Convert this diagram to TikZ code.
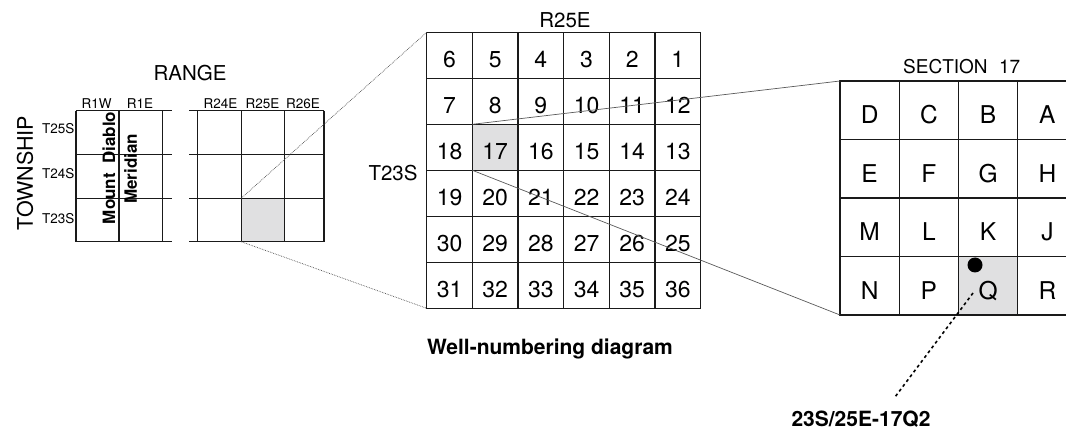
\documentclass[tikz,border=0pt]{standalone}
\usepackage{fontspec}
\setmainfont{TeX Gyre Heros}
\definecolor{cellgray}{HTML}{E0E0E1}
\definecolor{ink}{HTML}{1A1A1A}
\begin{document}
\begin{tikzpicture}[x=1pt,y=-1pt,
  gridline/.style={line width=1.2pt, draw=ink},
  seccell/.style={draw=ink, line width=1.2pt, rectangle, inner sep=0pt, outer sep=0pt,
    minimum width=45.67pt, minimum height=46pt, text height=24pt, text depth=0pt,
    font=\fontsize{23}{26}\selectfont},
  qcell/.style={draw=ink, line width=1.2pt, rectangle, inner sep=0pt, outer sep=0pt,
    minimum width=59.25pt, minimum height=58.5pt, text height=27.5pt, text depth=0pt,
    font=\fontsize{24.5}{28}\selectfont},
  small/.style={font=\fontsize{13.5}{15}\selectfont, inner sep=0pt},
  heading/.style={font=\fontsize{20.5}{23}\selectfont, inner sep=0pt},
  boldhead/.style={font=\bfseries\fontsize{21}{24}\selectfont, inner sep=0pt},
  meridian/.style={font=\bfseries\fontsize{17}{20}\selectfont, inner sep=0pt, rotate=90},
  zoomline/.style={draw=black!70, line width=0.7pt, densely dotted},
  zoomline2/.style={draw=black!65, line width=0.7pt},
  leader/.style={draw=black, line width=1.6pt, dash pattern=on 3pt off 3pt}]
\useasboundingbox (0,0) rectangle (1066,430);
\clip (0,0) rectangle (1066,430);

% ---- township and range overview ----
\node[heading] (range) at (190,73) {RANGE};
\node[font=\fontsize{21.5}{24}\selectfont, inner sep=0pt, rotate=90] (township) at (25,173) {TOWNSHIP};
\node[small] (r1w) at (96.7,103.3) {R1W};
\node[small] (r1e) at (140,103.3) {R1E};
\node[small] (r24e) at (220.5,103.3) {R24E};
\node[small] (r25e) at (262.5,103.3) {R25E};
\node[small] (r26e) at (303,103.3) {R26E};
\node[small] (t25s) at (58.3,128.7) {T25S};
\node[small] (t24s) at (58.3,174) {T24S};
\node[small] (t23s) at (58.3,218.5) {T23S};

% grid west of range 24 E
\foreach \y in {110.7,154.3,198.3,241.7}
  \draw[gridline] (76,\y) -- (172,\y);
\draw[gridline] (76,110.7) -- (76,241.7);
\draw[line width=1.8pt, draw=ink] (119.3,110.7) -- (119.3,241.7);
\draw[gridline] (162.7,110.7) -- (162.7,241.7);
\node[meridian] (mtdiablo) at (108.8,168) {Mount\hspace{0.55em}Diablo};
\node[meridian] (meridianlbl) at (130.5,169) {Meridian};

% grid of ranges 24 E to 26 E
\node[fill=cellgray, inner sep=0pt, outer sep=0pt, minimum width=43.1pt, minimum height=43.4pt]
  (twp) at (262.75,220) {};
\foreach \y in {110.7,154.3,198.3,241.7}
  \draw[gridline] (189.3,\y) -- (324,\y);
\foreach \x in {197.7,241.2,284.3,324}
  \draw[gridline] (\x,110.7) -- (\x,241.7);

% ---- township 23 S, range 25 E: 36 sections ----
\node[heading] (r25elbl) at (565,20) {R25E};
\node[heading] (t23slbl) at (393,173) {T23S};
\fill[cellgray] (472.37,124.3) rectangle (518.04,170.3);
\foreach \r in {0,...,5}
  \foreach \c in {0,...,5} {
    \pgfmathtruncatemacro\n{mod(\r,2)==0 ? 6*\r+6-\c : 6*\r+1+\c}
    \node[seccell] (s\n) at ({426.7+45.67*(\c+0.5)},{32.3+46*(\r+0.5)}) {\n};
  }

% ---- section 17: quarter-quarter tracts ----
\node[heading, font=\fontsize{19}{21}\selectfont] (sec17) at (961.7,66.7) {SECTION\hspace{0.6em}17};
\fill[cellgray] (958.5,256.5) rectangle (1017.75,315);
\foreach \L [count=\i from 0] in {D,C,B,A,E,F,G,H,M,L,K,J,N,P,Q,R} {
  \pgfmathtruncatemacro\r{int(\i/4)}
  \pgfmathtruncatemacro\c{mod(\i,4)}
  \node[qcell] (q\L) at ({840+59.25*(\c+0.5)},{81+58.5*(\r+0.5)}) {\L};
}

% enlargement lines
\draw[zoomline] (twp.north west) -- (s6.north west);
\draw[zoomline] (twp.south west) -- (s31.south west);
\draw[zoomline2] (s17.north west) -- (qD.north west);
\draw[zoomline2] (s17.south west) -- (qN.south west);

% well location and its number
\node[circle, fill=black, minimum size=15pt, inner sep=0pt] (well) at (975,265) {};
\node[boldhead, anchor=base] (caption) at (550,355) {Well-numbering diagram};
\node[boldhead, anchor=base] (wellno) at (861,426) {23S/25E-17Q2};
\coordinate (leadstart) at (973,293);
\coordinate (leadend) at (895,397);
\draw[leader] (leadstart) -- (leadend);
\end{tikzpicture}
\end{document}
